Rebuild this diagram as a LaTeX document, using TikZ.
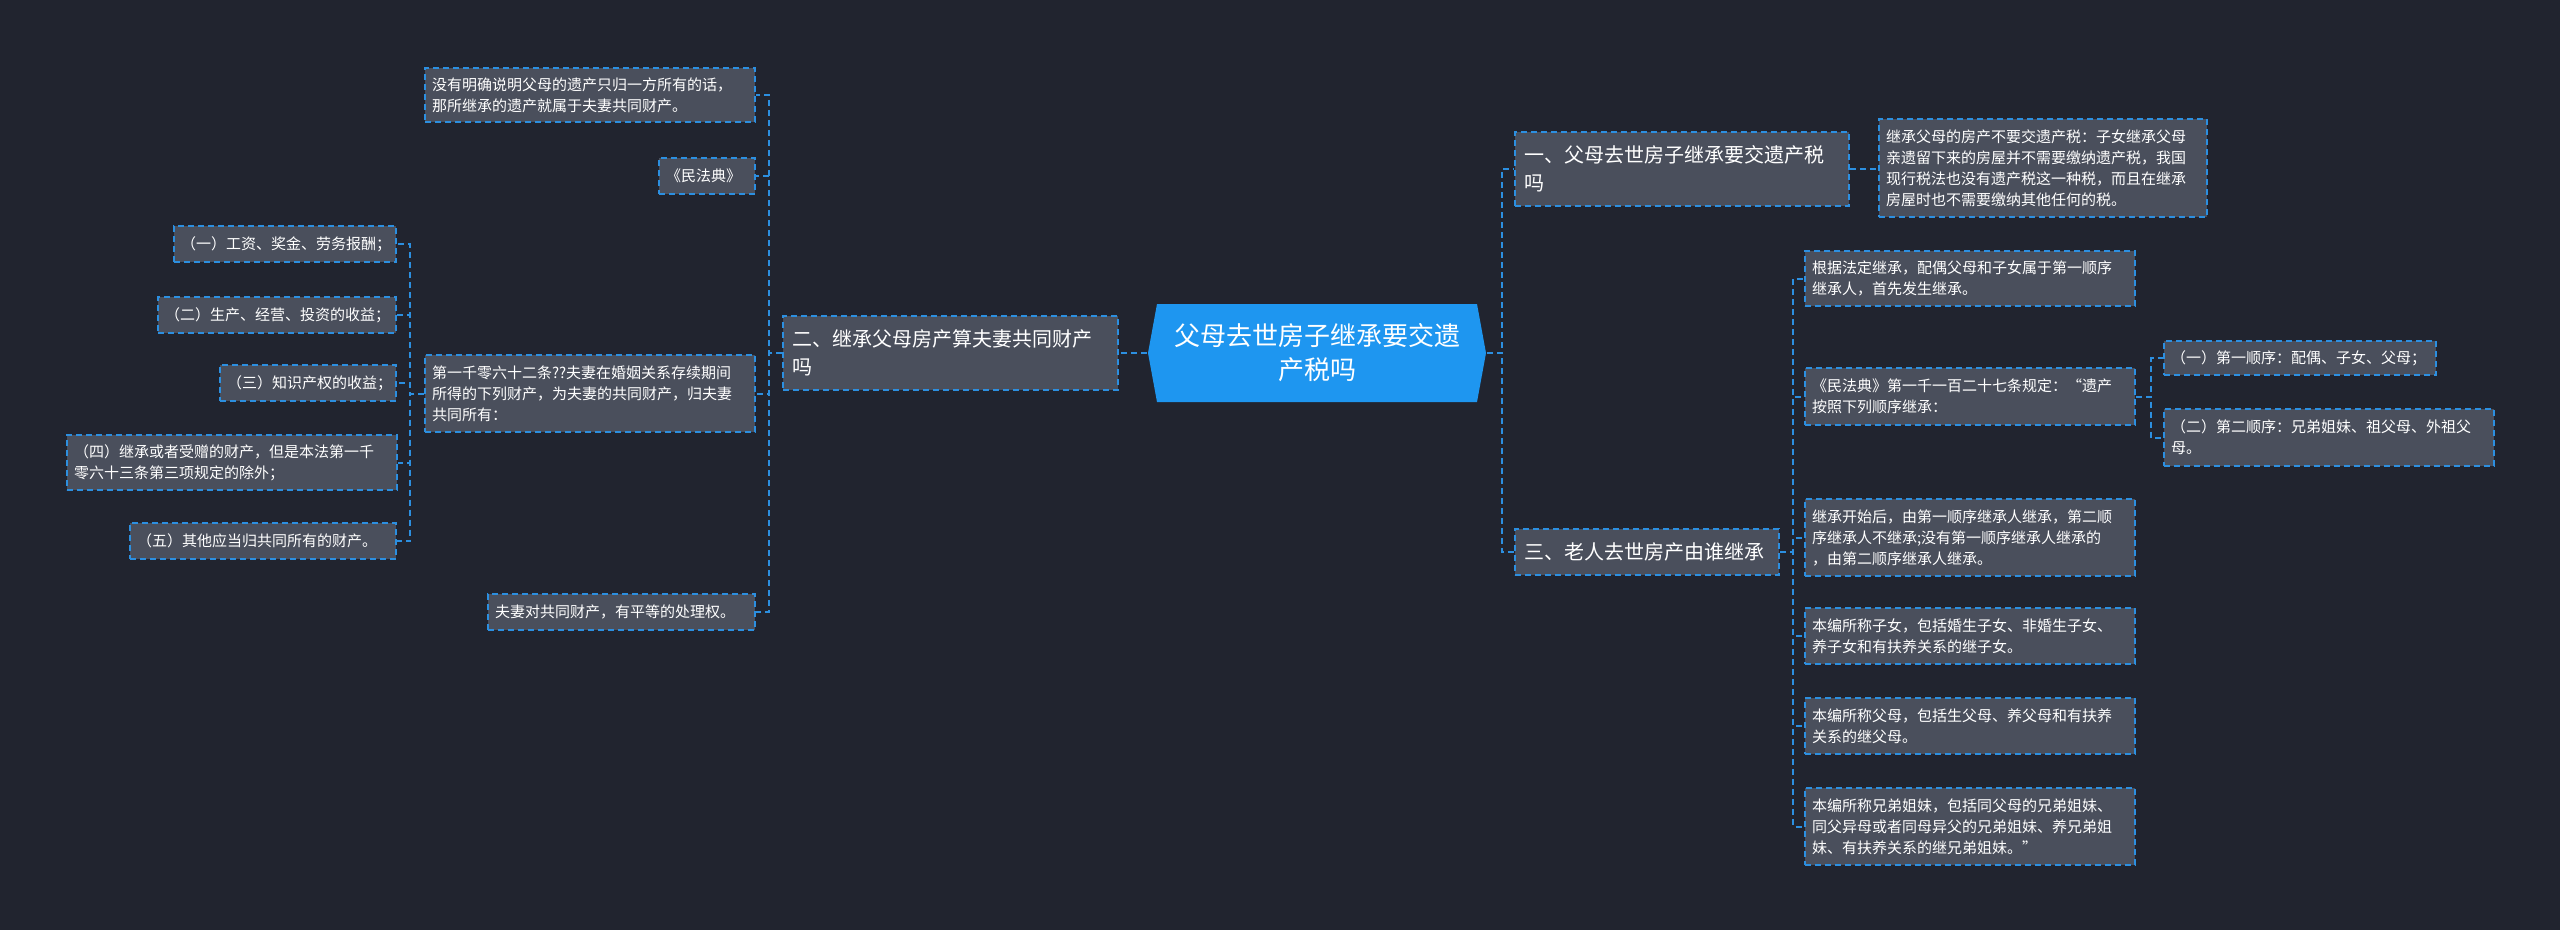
\documentclass[tikz,border=0pt]{standalone}
\usepackage{fontspec}
\newfontfamily\cjk{Noto Sans CJK SC}
\usetikzlibrary{calc}
\definecolor{cbg}{HTML}{21242F}
\definecolor{cbox}{HTML}{4A4F5C}
\definecolor{clink}{HTML}{2C8FE0}
\definecolor{croot}{HTML}{1E96F0}
\tikzset{
  every picture/.style={line width=2pt},
  leaf/.style={draw=clink, dash pattern=on 6pt off 4pt, fill=cbox, text=white,
    font=\cjk\fontsize{15}{21}\selectfont, align=left, anchor=north west,
    inner xsep=7pt, inner ysep=4pt, minimum width=#1, text width=#1-14pt},
  topic/.style={leaf=#1, font=\cjk\fontsize{20}{28}\selectfont, inner xsep=9pt, text width=#1-18pt},
  link/.style={draw=clink, dash pattern=on 6pt off 4pt, line width=2pt},
}

\begin{document}
\begin{tikzpicture}[x=1pt, y=-1pt]
  \useasboundingbox (0,0) rectangle (2560,930);
  \fill[cbg] (0,0) rectangle (2560,930);

  % centre topic
  \fill[croot] (1157,304) -- (1477,304) -- (1486,353) -- (1477,402) -- (1157,402) -- (1148,353) -- cycle;
  \node[text=white, font=\cjk\fontsize{26}{34}\selectfont, align=center, minimum width=338pt, minimum height=98pt]
    (root) at (1317,353) {父母去世房子继承要交遗\\产税吗};

  % first level
  \node[topic=335pt, minimum height=74pt] (two) at (782,315) {二、继承父母房产算夫妻共同财产\\吗};
  \node[topic=334pt, minimum height=74pt] (one) at (1514,131) {一、父母去世房子继承要交遗产税\\吗};
  \node[topic=264pt, minimum height=46pt] (three) at (1514,528) {三、老人去世房产由谁继承};

  % left side
  \node[leaf=330pt, minimum height=54pt] (c1) at (424,67) {没有明确说明父母的遗产只归一方所有的话，\\那所继承的遗产就属于夫妻共同财产。};
  \node[leaf=96pt, minimum height=36pt] (c2) at (658,157) {《民法典》};
  \node[leaf=330pt, minimum height=77pt] (c3) at (424,354) {第一千零六十二条??夫妻在婚姻关系存续期间\\所得的下列财产，为夫妻的共同财产，归夫妻\\共同所有：};
  \node[leaf=267pt, minimum height=36pt] (c4) at (487,593) {夫妻对共同财产，有平等的处理权。};

  \node[leaf=222pt, minimum height=36pt] (g1) at (173,225) {（一）工资、奖金、劳务报酬；};
  \node[leaf=238pt, minimum height=36pt] (g2) at (157,296) {（二）生产、经营、投资的收益；};
  \node[leaf=176pt, minimum height=36pt] (g3) at (219,364) {（三）知识产权的收益；};
  \node[leaf=330pt, minimum height=55pt] (g4) at (66,434) {（四）继承或者受赠的财产，但是本法第一千\\零六十三条第三项规定的除外；};
  \node[leaf=266pt, minimum height=36pt] (g5) at (129,522) {（五）其他应当归共同所有的财产。};

  % right side
  \node[leaf=328pt, minimum height=98pt] (r1) at (1878,118) {继承父母的房产不要交遗产税：子女继承父母\\亲遗留下来的房屋并不需要缴纳遗产税，我国\\现行税法也没有遗产税这一种税，而且在继承\\房屋时也不需要缴纳其他任何的税。};

  \node[leaf=330pt, minimum height=55pt] (t1) at (1804,250) {根据法定继承，配偶父母和子女属于第一顺序\\继承人，首先发生继承。};
  \node[leaf=330pt, minimum height=57pt] (t2) at (1804,367) {《民法典》第一千一百二十七条规定：“遗产\\按照下列顺序继承：};
  \node[leaf=330pt, minimum height=77pt] (t3) at (1804,498) {继承开始后，由第一顺序继承人继承，第二顺\\序继承人不继承;没有第一顺序继承人继承的\\，由第二顺序继承人继承。};
  \node[leaf=330pt, minimum height=56pt] (t4) at (1804,607) {本编所称子女，包括婚生子女、非婚生子女、\\养子女和有扶养关系的继子女。};
  \node[leaf=330pt, minimum height=56pt] (t5) at (1804,697) {本编所称父母，包括生父母、养父母和有扶养\\关系的继父母。};
  \node[leaf=330pt, minimum height=77pt] (t6) at (1804,787) {本编所称兄弟姐妹，包括同父母的兄弟姐妹、\\同父异母或者同母异父的兄弟姐妹、养兄弟姐\\妹、有扶养关系的继兄弟姐妹。”};

  \node[leaf=272pt, minimum height=34pt] (u1) at (2163,340) {（一）第一顺序：配偶、子女、父母；};
  \node[leaf=330pt, minimum height=57pt] (u2) at (2163,408) {（二）第二顺序：兄弟姐妹、祖父母、外祖父\\母。};

  % connectors
  \coordinate (ltr) at ($(two.west)+(-13,0)$);
  \coordinate (gtr) at ($(c3.west)+(-14,0)$);
  \coordinate (rtr) at ($(root.east)+(15,0)$);
  \coordinate (ttr) at ($(three.east)+(13,0)$);
  \coordinate (utr) at ($(t2.east)+(15,0)$);
  \draw[link] (root.west) -- (two.east);
  \foreach \c in {c1,c2,c3,c4} \draw[link] (two.west) -- (ltr) |- (\c.east);
  \foreach \c in {g1,g2,g3,g4,g5} \draw[link] (c3.west) -- (gtr) |- (\c.east);
  \foreach \c in {one,three} \draw[link] (root.east) -- (rtr) |- (\c.west);
  \draw[link] (one.east) -- (one.east -| r1.west);
  \foreach \c in {t1,t2,t3,t4,t5,t6} \draw[link] (three.east) -- (ttr) |- (\c.west);
  \foreach \c in {u1,u2} \draw[link] (t2.east) -- (utr) |- (\c.west);
\end{tikzpicture}
\end{document}
